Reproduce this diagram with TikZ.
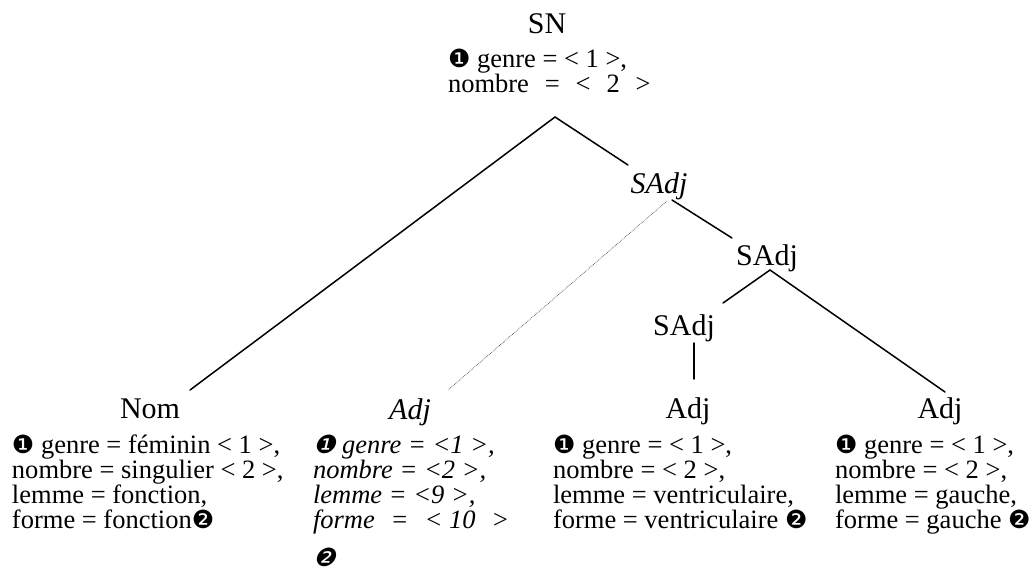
\documentclass[tikz,border=0pt]{standalone}
\usepackage{fontspec}
\setmainfont{Liberation Serif}
\newfontfamily\dingfont{DejaVu Sans}
\newfontfamily\dingslant[FakeSlant=0.25]{DejaVu Sans}
\newcommand{\cOne}{{\dingfont\fontsize{25}{24}\selectfont ❶}}
\newcommand{\cTwo}{{\dingfont\fontsize{25}{24}\selectfont ❷}}
\newcommand{\sOne}{{\dingslant\fontsize{25}{24}\selectfont ❶}}
\newcommand{\sTwo}{{\dingslant\fontsize{25}{24}\selectfont ❷}}
\newcommand{\wsp}{\hspace{0.6em}}
\newcommand{\isp}{\hspace{0.6em}}
\begin{document}
\begin{tikzpicture}[x=1pt,y=-1pt,
  every node/.style={inner sep=0pt,outer sep=0pt},
  head/.style={anchor=base,font=\fontsize{30}{32}\selectfont},
  ihead/.style={anchor=base,font=\fontsize{30}{32}\selectfont\itshape},
  attr/.style={anchor=base west,font=\fontsize{26.5}{26}\selectfont},
  iattr/.style={anchor=base west,font=\fontsize{26.5}{26}\selectfont\itshape},
  edge/.style={line width=1.5pt,line cap=round},
  dotedge/.style={line width=0.7pt,densely dotted,black!70}]
\useasboundingbox (0,0) rectangle (1032,581);

% heads
\node[head]  (sn)    at (547,33)  {SN};
\node[ihead] (sadjI) at (659,193) {SAdj};
\node[head]  (sadjA) at (767,265) {SAdj};
\node[head]  (sadjB) at (684,335) {SAdj};
\node[head]  (nom)   at (150,418) {Nom};
\node[ihead] (adjI)  at (410,419) {Adj};
\node[head]  (adjM)  at (688,418) {Adj};
\node[head]  (adjR)  at (940,418) {Adj};

% SN attributes
\node[attr] (sn1) at (448,67) {\cOne{} genre = < 1 >,};
\node[attr] (sn2) at (448,92) {nombre\wsp=\wsp<\wsp2\wsp>};

% Nom attributes
\node[attr] (nom1) at (12,453) {\cOne{} genre = féminin < 1 >,};
\node[attr] (nom2) at (12,478) {nombre = singulier < 2 >,};
\node[attr] (nom3) at (12,503) {lemme = fonction,};
\node[attr] (nom4) at (12,528) {forme = fonction\cTwo};

% italic Adj attributes
\node[iattr] (ai1) at (313,453) {\sOne{} genre = <1 >,};
\node[iattr] (ai2) at (313,478) {nombre = <2 >,};
\node[iattr] (ai3) at (313,503) {lemme = <9 >,};
\node[iattr] (ai4) at (313,528) {forme\isp=\isp<\hspace{0.25em}10\isp>};
\node[iattr] (ai5) at (313,566) {\sTwo};

% middle Adj attributes
\node[attr] (am1) at (553,453) {\cOne{} genre = < 1 >,};
\node[attr] (am2) at (553,478) {nombre = < 2 >,};
\node[attr] (am3) at (553,503) {lemme = ventriculaire,};
\node[attr] (am4) at (553,528) {forme = ventriculaire \cTwo};

% right Adj attributes
\node[attr] (ar1) at (835,453) {\cOne{} genre = < 1 >,};
\node[attr] (ar2) at (835,478) {nombre = < 2 >,};
\node[attr] (ar3) at (835,503) {lemme = gauche,};
\node[attr] (ar4) at (835,528) {forme = gauche \cTwo};

% connector ends
\coordinate (snB)     at (555,117);
\coordinate (nomT)    at (190,390);
\coordinate (sadjIT)  at (628,165);
\coordinate (sadjIB)  at (672,200);
\coordinate (sadjIBd) at (667,201);
\coordinate (sadjAT)  at (732,238);
\coordinate (sadjAB)  at (770,270);
\coordinate (sadjBT)  at (723,303);
\coordinate (adjRT)   at (945,392);
\coordinate (sadjBB)  at (694,343);
\coordinate (adjMT)   at (694,379);
\coordinate (adjIT)   at (448,390);

\draw[edge] (snB) -- (nomT);
\draw[edge] (snB) -- (sadjIT);
\draw[edge] (sadjIB) -- (sadjAT);
\draw[edge] (sadjAB) -- (sadjBT);
\draw[edge] (sadjAB) -- (adjRT);
\draw[edge] (sadjBB) -- (adjMT);
\draw[dotedge] (sadjIBd) -- (adjIT);
\end{tikzpicture}
\end{document}
